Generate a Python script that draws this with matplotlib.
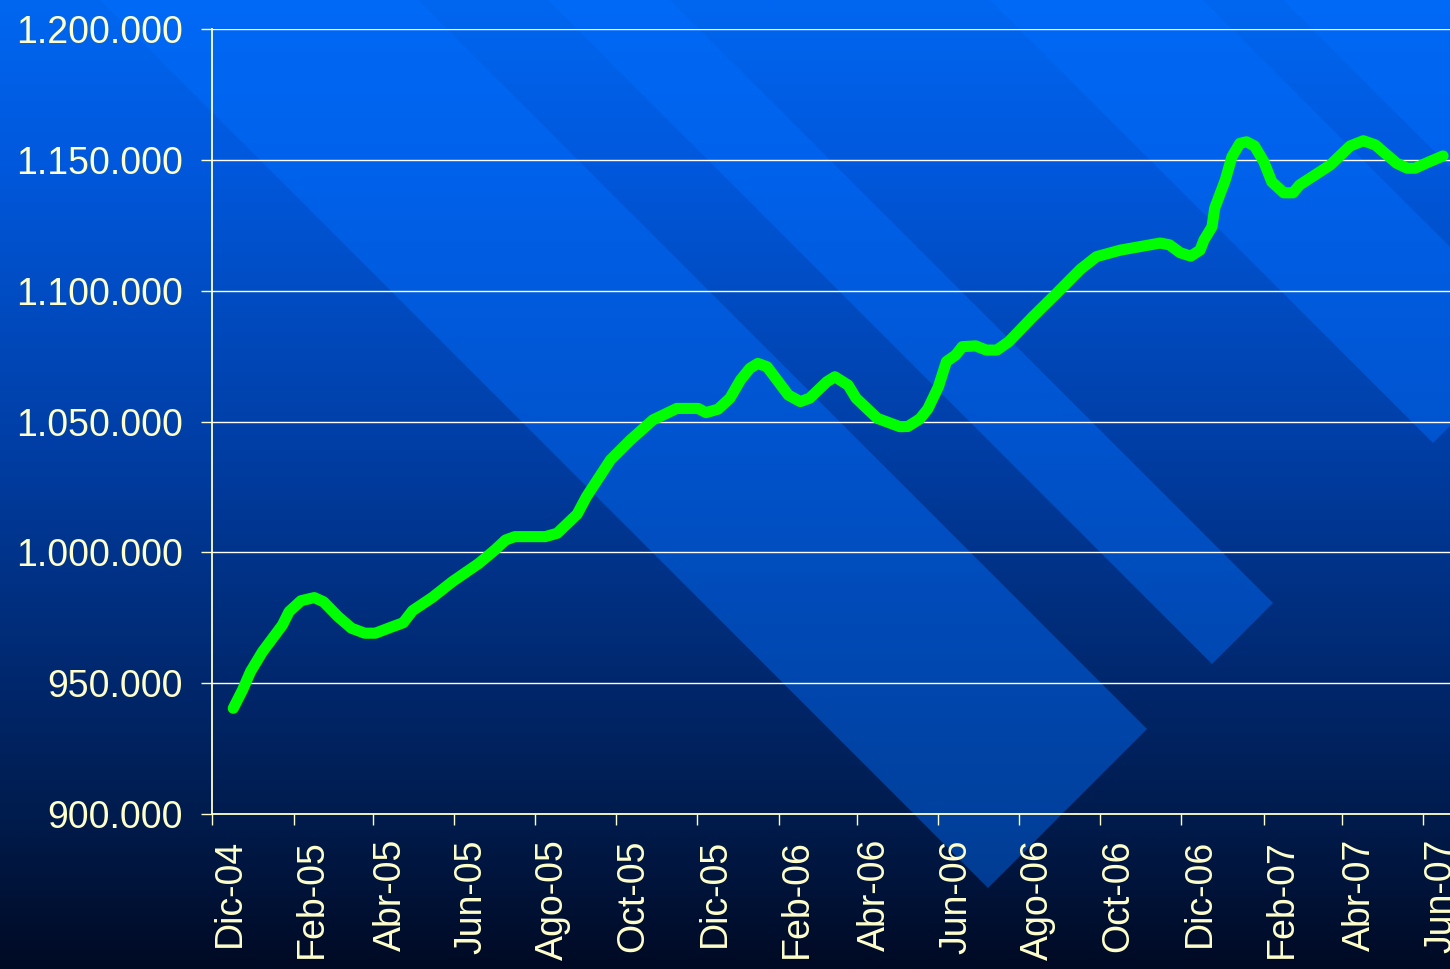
import matplotlib
matplotlib.use("Agg")
import numpy as np
import pandas as pd
import matplotlib.pyplot as plt
import matplotlib.transforms as mtransforms
from matplotlib.colors import LinearSegmentedColormap
from matplotlib.patches import Polygon
from matplotlib.ticker import FuncFormatter

plt.rcParams['font.family'] = ['Liberation Sans', 'DejaVu Sans']

# values
dates = ['2004-12-17', '2004-12-24', '2004-12-30', '2005-01-08', '2005-01-23',
         '2005-01-28', '2005-02-06', '2005-02-16', '2005-02-23', '2005-03-06',
         '2005-03-16', '2005-03-26', '2005-04-03', '2005-04-16', '2005-04-24',
         '2005-05-01', '2005-05-16', '2005-05-31', '2005-06-20', '2005-07-02',
         '2005-07-10', '2005-07-17', '2005-08-09', '2005-08-18', '2005-09-02',
         '2005-09-09', '2005-09-27', '2005-10-12', '2005-10-29', '2005-11-16',
         '2005-12-02', '2005-12-08', '2005-12-17', '2005-12-26', '2006-01-03',
         '2006-01-10', '2006-01-16', '2006-01-23', '2006-02-08', '2006-02-17',
         '2006-02-24', '2006-03-09', '2006-03-15', '2006-03-25', '2006-03-31',
         '2006-04-16', '2006-05-03', '2006-05-09', '2006-05-18', '2006-05-24',
         '2006-06-01', '2006-06-07', '2006-06-14', '2006-06-19', '2006-06-29',
         '2006-07-07', '2006-07-15', '2006-07-24', '2006-08-11', '2006-08-29',
         '2006-09-16', '2006-09-28', '2006-10-16', '2006-11-15', '2006-11-22',
         '2006-11-30', '2006-12-08', '2006-12-15', '2006-12-18', '2006-12-24',
         '2006-12-26', '2007-01-03', '2007-01-08', '2007-01-14', '2007-01-19',
         '2007-01-25', '2007-02-01', '2007-02-07', '2007-02-16', '2007-02-23',
         '2007-02-28', '2007-03-23', '2007-04-07', '2007-04-17', '2007-04-26',
         '2007-05-12', '2007-05-20', '2007-05-26', '2007-06-04', '2007-06-16']
values = [940400, 947400, 954400, 962000, 972200,
          977300, 981500, 982700, 981100, 975400,
          971000, 969100, 969100, 971600, 973100,
          977700, 982800, 988800, 995800, 1000900,
          1004700, 1006000, 1006000, 1007300, 1014600,
          1021300, 1035300, 1042900, 1050600, 1055000,
          1055000, 1053400, 1054700, 1058900, 1065900,
          1070300, 1072200, 1070900, 1060100, 1057600,
          1058900, 1065200, 1067100, 1063900, 1058900,
          1051200, 1048000, 1048100, 1051000, 1054800,
          1063300, 1072900, 1075400, 1078600, 1078900,
          1077300, 1077300, 1080500, 1090000, 1099000,
          1108200, 1113000, 1115500, 1118200, 1117500,
          1114500, 1113200, 1115500, 1119400, 1124400,
          1131500, 1142300, 1151200, 1156300, 1156900,
          1155300, 1149300, 1141600, 1137400, 1137400,
          1140400, 1148000, 1155300, 1157300, 1155700,
          1148700, 1146800, 1146800, 1148900, 1151500]

tick_dates = ['2004-12-01', '2005-02-01', '2005-04-01', '2005-06-01', '2005-08-01',
              '2005-10-01', '2005-12-01', '2006-02-01', '2006-04-01', '2006-06-01',
              '2006-08-01', '2006-10-01', '2006-12-01', '2007-02-01', '2007-04-01',
              '2007-06-01']
tick_labels = ['Dic-04', 'Feb-05', 'Abr-05', 'Jun-05', 'Ago-05', 'Oct-05', 'Dic-05',
               'Feb-06', 'Abr-06', 'Jun-06', 'Ago-06', 'Oct-06', 'Dic-06', 'Feb-07',
               'Abr-07', 'Jun-07']
y_ticks = [900000, 950000, 1000000, 1050000, 1100000, 1150000, 1200000]

W, H = 1450, 969
fig = plt.figure(figsize=(W / 100, H / 100), dpi=100)

# background: vertical gradient plus diagonal light bands
bg = fig.add_axes([0, 0, 1, 1], zorder=0)
cmap = LinearSegmentedColormap.from_list('bg', [
    (0.0, (0 / 255, 102 / 255, 240 / 255)),
    (0.17, (0 / 255, 88 / 255, 220 / 255)),
    (0.46, (0 / 255, 62 / 255, 165 / 255)),
    (0.72, (0 / 255, 38 / 255, 105 / 255)),
    (0.84, (0 / 255, 28 / 255, 78 / 255)),
    (1.0, (0 / 255, 10 / 255, 35 / 255)),
])
grad = np.linspace(0, 1, 512).reshape(-1, 1)
bg.imshow(grad, cmap=cmap, extent=[0, W, H, 0], aspect='auto')
C = 1876
for a, b in [(100, 418), (548, 670), (990, 1203), (1283, 1800)]:
    pts = [(a - 20, -20), (b - 20, -20), ((b + C) / 2, (C - b) / 2), ((a + C) / 2, (C - a) / 2)]
    bg.add_patch(Polygon(pts, closed=True, facecolor=(0, 110 / 255, 1.0), alpha=0.45, lw=0))
bg.set_xlim(0, W)
bg.set_ylim(H, 0)
bg.axis('off')

# main chart
x0 = pd.Timestamp('2004-12-01')
x1 = pd.Timestamp('2007-07-01')
ax = fig.add_axes([212 / W, 155 / H, 1251 / W, 785 / H], zorder=1)
ax.patch.set_visible(False)
ax.plot(pd.to_datetime(dates), values, color='#00ff00', lw=8,
        solid_capstyle='round', solid_joinstyle='round', zorder=3)
ax.set_xlim(x0, x1)
ax.set_ylim(900000, 1200000)

txt = '#ffffcc'
ax.set_yticks(y_ticks)
ax.yaxis.set_major_formatter(FuncFormatter(lambda v, p: f"{int(v):,}".replace(',', '.')))
ax.grid(axis='y', color='white', lw=1.0, zorder=1)
ax.set_xticks(pd.to_datetime(tick_dates))
ax.set_xticklabels(tick_labels, rotation=90, ha='center', va='top')

for s in ['top', 'right']:
    ax.spines[s].set_visible(False)
for s in ['left', 'bottom']:
    ax.spines[s].set_color(txt)
    ax.spines[s].set_linewidth(1.3)

ax.tick_params(axis='y', colors=txt, length=8, width=1.0, labelsize=27, pad=13)
ax.tick_params(axis='x', colors=txt, length=8, width=1.0, labelsize=27, pad=10)

offset = mtransforms.ScaledTranslation(18 / 100, 0, fig.dpi_scale_trans)
for lab in ax.get_xticklabels():
    lab.set_transform(lab.get_transform() + offset)

fig.savefig('out.png', dpi=100)
